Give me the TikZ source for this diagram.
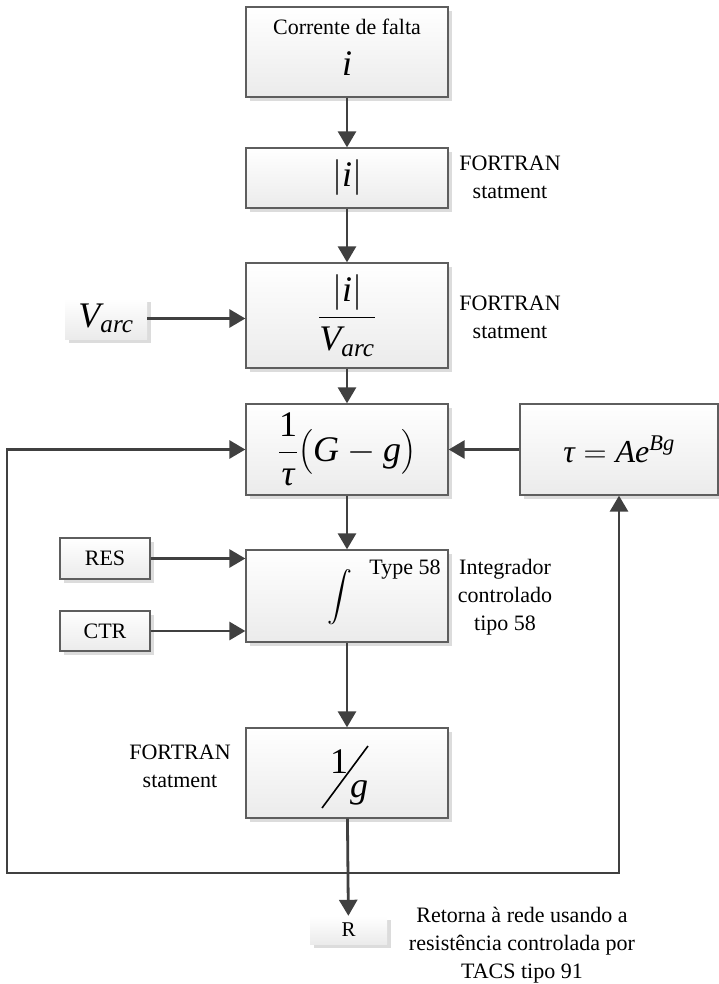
\RequirePackage{fix-cm}
\documentclass[tikz,border=0pt]{standalone}
\usepackage{amsmath}
\usepackage{fontspec}
\setmainfont{Liberation Serif}
\usetikzlibrary{arrows.meta,shadows}

\definecolor{edge}{HTML}{5E5E5E}
\definecolor{wire}{HTML}{404040}
\definecolor{shadowgray}{HTML}{DCDCDC}
\definecolor{fillbot}{HTML}{EBEBEB}

\newcommand\itx[1]{\textit{#1}}
\newcommand\fsz[2]{\fontsize{#1}{#2}\selectfont}

\tikzset{
  blk/.style={draw=edge, line width=1.3pt, top color=white, bottom color=fillbot,
    drop shadow={shadow xshift=4pt, shadow yshift=-4pt, fill=shadowgray, opacity=1},
    inner sep=0pt},
  soft/.style={top color=white, bottom color=fillbot,
    drop shadow={shadow xshift=4pt, shadow yshift=-4pt, fill=shadowgray, opacity=1},
    inner sep=0pt},
  wirearrow/.style={draw=wire, line width=2.8pt, -{Triangle[length=16pt,width=18pt]}},
  note/.style={font=\fsz{22}{28}, align=center, inner sep=0pt},
  big/.style={font=\fsz{36}{40}, inner sep=0pt}
}

\begin{document}
\begin{tikzpicture}[x=1pt, y=-1pt]
  \useasboundingbox (0,0) rectangle (718,984);

  % main chain of blocks
  \node[blk, minimum width=202pt, minimum height=90pt] (b1) at (347,52) {};
  \node[note] (b1t) at (347,27) {Corrente de falta};
  \node[big] (b1i) at (347,64) {\itx{i}};

  \node[blk, minimum width=202pt, minimum height=60pt] (b2) at (347,178)
    {\fsz{36}{40}$\lvert\itx{i}\rvert$};

  \node[blk, minimum width=202pt, minimum height=105pt] (b3) at (347,315.5)
    {\fsz{36}{40}$\dfrac{\lvert\itx{i}\rvert}{\itx{V}_{\itx{arc}}}$};

  \node[blk, minimum width=202pt, minimum height=91pt] (b4) at (347,449.5)
    {\fsz{36}{40}$\dfrac{\textup{1}}{\itx{τ}}\bigl(\itx{G}-\itx{g}\bigr)$};

  \node[blk, minimum width=198pt, minimum height=91pt] (tau) at (619,449.5)
    {\fsz{32}{36}$\itx{τ}=\itx{A}\itx{e}^{\itx{Bg}}$};

  \node[blk, minimum width=202pt, minimum height=92pt] (b5) at (347,596) {};
  \node[inner sep=0pt] (intg) at (340,597) {\fsz{23}{26}$\displaystyle\int$};
  \node[note] (b5t) at (405,570) {Type 58};

  \node[blk, minimum width=202pt, minimum height=90pt] (b6) at (347,773) {};
  \node[big] (one) at (339,762) {\textup{1}};
  \node[big] (gee) at (359,793) {\itx{g}};
  \draw[line width=1.6pt] (322,808) -- (368,746);

  % inputs and output
  \node[soft, minimum width=82pt, minimum height=41pt] (varc) at (106,318.5)
    {\fsz{36}{40}$\itx{V}_{\itx{arc}}$};
  \node[blk, minimum width=90pt, minimum height=41pt, font=\fsz{22}{26}] (res) at (105,558.5) {RES};
  \node[blk, minimum width=90pt, minimum height=40pt, font=\fsz{22}{26}] (ctr) at (105,631) {CTR};
  \node[soft, minimum width=77pt, minimum height=28pt, font=\fsz{21}{24}] (rout) at (348.5,930) {R};

  % side notes
  \node[note] (n2) at (510,177) {FORTRAN\\statment};
  \node[note] (n3) at (510,317) {FORTRAN\\statment};
  \node[note] (n5) at (505,597) {Integrador\\controlado\\tipo 58};
  \node[note] (n6) at (180,766) {FORTRAN\\statment};
  \node[note] (n7) at (522,945) {Retorna à rede usando a\\resistência controlada por\\TACS tipo 91};

  % signal flow
  \draw[wirearrow] (b1) -- (b2);
  \draw[wirearrow] (b2) -- (b3);
  \draw[wirearrow] (b3) -- (b4);
  \draw[wirearrow] (b4) -- (b5);
  \draw[wirearrow] (b5) -- (b6);
  \draw[wirearrow] (b6) -- (rout);
  \draw[wirearrow] (varc.east) -- (varc.east -| b3.west);
  \draw[wirearrow] (tau.west) -- (tau.west -| b4.east);
  \draw[wirearrow] (res.east) -- (res.east -| b5.west);
  \draw[wirearrow] (ctr.east) -- (ctr.east -| b5.west);

  % feedback loop from the output
  \coordinate (jn) at (347,873);
  \coordinate (loopL) at (7,873);
  \draw[wirearrow] (jn) -- (loopL) |- (b4.west);
  \draw[wirearrow] (jn) -| (tau.south);
\end{tikzpicture}
\end{document}
